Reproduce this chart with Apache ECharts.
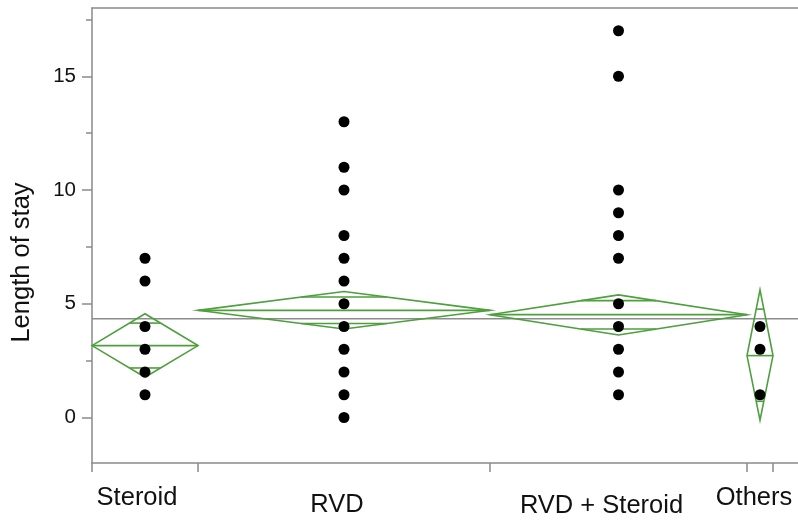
<!DOCTYPE html>
<html lang="en">
<head>
	<meta charset="UTF-8">
	<title>Length of stay by treatment</title>
	<script src="https://cdn.jsdelivr.net/npm/echarts@6/dist/echarts.min.js"></script>
</head>
<style>
	html, body { margin: 0; padding: 0; background: #fff; }
	#main { width: 798px; height: 520px; }
</style>
<body>
	<div id="main"></div>
	<script>
		// groups, widths are proportional to group size (axis units)
		var categories = ['Steroid', 'RVD', 'RVD + Steroid', 'Others'];
		var groupWidths = [106, 292, 257, 26];
		var points = [
			[1, 2, 3, 4, 6, 7],
			[0, 1, 2, 3, 4, 5, 6, 7, 8, 10, 11, 13],
			[1, 2, 3, 4, 5, 7, 8, 9, 10, 15, 17],
			[1, 3, 4]
		];
		// means diamonds
		var means = [3.16, 4.71, 4.52, 2.72];
		var ciLower = [1.77, 3.89, 3.63, -0.12];
		var ciUpper = [4.56, 5.54, 5.39, 5.61];
		var grandMean = 4.34;
		var yTicks = [0, 5, 10, 15];
		var yMinorTicks = [2.5, 7.5, 12.5, 17.5];

		var green = '#4e9f3d';
		var axisGray = '#8a8a8a';
		var font = '"Liberation Sans", Arial, Helvetica, sans-serif';
		var xMax = 706;
		// label nudges, like the original staggered labels
		var labelShift = [-8, -7, -17, -6];
		var labelDrop = [0, 7, 8, 0];

		var bounds = [0];
		groupWidths.forEach(function (w, i) { bounds.push(bounds[i] + w); });
		var centers = categories.map(function (c, i) { return (bounds[i] + bounds[i + 1]) / 2; });
		var labelPos = centers.map(function (c, i) { return c + labelShift[i]; });

		var scatterData = [];
		points.forEach(function (arr, i) {
			arr.forEach(function (v) { scatterData.push([centers[i], v]); });
		});
		var diamondData = categories.map(function (c, i) {
			return [bounds[i], bounds[i + 1], means[i], ciLower[i], ciUpper[i]];
		});

		var rich = {};
		categories.forEach(function (c, i) {
			rich['l' + i] = {
				fontFamily: font, fontSize: 25.5, color: '#111',
				padding: [labelDrop[i], 0, 0, 0]
			};
		});

		function renderDiamond(params, api) {
			var x0 = api.value(0), x1 = api.value(1), m = api.value(2);
			var lo = api.value(3), hi = api.value(4);
			var xc = (x0 + x1) / 2, half = (x1 - x0) / 2;
			var pL = api.coord([x0, m]), pT = api.coord([xc, hi]);
			var pR = api.coord([x1, m]), pB = api.coord([xc, lo]);
			var style = { stroke: green, lineWidth: 1.6, fill: null };
			var kids = [
				{ type: 'polygon', shape: { points: [pL, pT, pR, pB] }, style: style },
				{ type: 'line', shape: { x1: pL[0], y1: pL[1], x2: pR[0], y2: pR[1] }, style: style }
			];
			// overlap marks at mean +/- halfCI/sqrt(2)
			var f = 1 - 1 / Math.SQRT2;
			[[hi, m + (hi - m) / Math.SQRT2], [lo, m - (m - lo) / Math.SQRT2]].forEach(function (o) {
				var a = api.coord([xc - half * f, o[1]]);
				var b = api.coord([xc + half * f, o[1]]);
				kids.push({ type: 'line', shape: { x1: a[0], y1: a[1], x2: b[0], y2: b[1] }, style: style });
			});
			return { type: 'group', children: kids };
		}

		var myChart = echarts.init(document.getElementById('main'));
		var option = {
			animation: false,
			grid: { left: 92, right: 0, top: 8, bottom: 57, show: false, containLabel: false, outerBoundsMode: 'none' },
			xAxis: [{
				type: 'value', min: 0, max: xMax,
				splitLine: { show: false },
				axisLine: { show: true, onZero: false, lineStyle: { color: axisGray, width: 1.5 } },
				axisTick: { show: true, customValues: bounds, length: 9, lineStyle: { color: axisGray, width: 1.5 } },
				axisLabel: {
					show: true, customValues: labelPos, margin: 22,
					formatter: function (v) {
						var i = labelPos.indexOf(v);
						return i < 0 ? '' : '{l' + i + '|' + categories[i] + '}';
					},
					rich: rich
				}
			}, {
				type: 'value', min: 0, max: xMax, position: 'top',
				splitLine: { show: false },
				axisLine: { show: true, onZero: false, lineStyle: { color: axisGray, width: 1.5 } },
				axisTick: { show: false }, axisLabel: { show: false }
			}],
			yAxis: [{
				type: 'value', min: -2, max: 18,
				name: 'Length of stay', nameLocation: 'middle', nameGap: 57, nameRotate: 90,
				nameTextStyle: { fontFamily: font, fontSize: 25.5, color: '#111', padding: [0, 54, 0, 0] },
				splitLine: { show: false },
				axisLine: { show: true, onZero: false, lineStyle: { color: axisGray, width: 1.5 } },
				axisTick: { show: true, customValues: yTicks, length: 10, lineStyle: { color: axisGray, width: 1.5 } },
				axisLabel: { customValues: yTicks, margin: 16, fontFamily: font, fontSize: 20.5, color: '#111' }
			}, {
				type: 'value', min: -2, max: 18, position: 'left',
				splitLine: { show: false },
				axisLine: { show: false, onZero: false },
				axisTick: { show: true, customValues: yMinorTicks, length: 6, lineStyle: { color: axisGray, width: 1.5 } },
				axisLabel: { show: false }
			}],
			series: [{
				type: 'line',
				data: [[0, grandMean], [xMax, grandMean]],
				symbol: 'none', silent: true,
				lineStyle: { color: '#8c8c8c', width: 1.5 },
				z: 1
			}, {
				type: 'custom',
				renderItem: renderDiamond,
				data: diamondData,
				encode: { x: [0, 1], y: [2, 3, 4] },
				silent: true,
				z: 2
			}, {
				type: 'scatter',
				data: scatterData,
				symbolSize: 11,
				itemStyle: { color: '#000', opacity: 1 },
				z: 3
			}]
		};
		myChart.setOption(option);
	</script>
</body>
</html>
